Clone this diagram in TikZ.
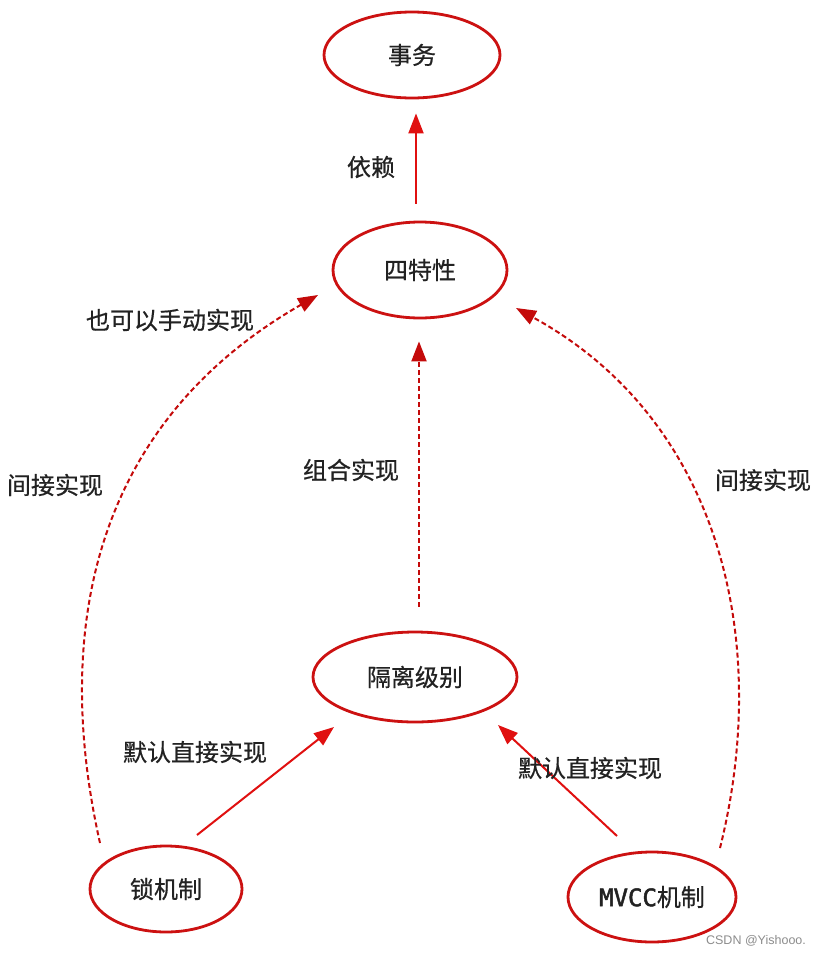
\documentclass[tikz,border=0pt]{standalone}
\usepackage{fontspec}
\setmainfont{Noto Sans CJK SC}[FakeBold=0.6]
\newfontfamily\monobold{DejaVu Sans Mono}[FakeBold=2]
\newfontfamily\wmfont{Liberation Sans}
\usetikzlibrary{shapes.geometric,arrows.meta,calc}
\definecolor{ered}{HTML}{CC1111}
\definecolor{ared}{HTML}{E01010}
\definecolor{dred}{HTML}{C40A0A}
\definecolor{txt}{HTML}{222222}
\tikzset{
  oval/.style={ellipse,draw=ered,line width=2.8pt,inner sep=0pt,text=txt,font=\fontsize{24}{26}\selectfont},
  lbl/.style={text=txt,font=\fontsize{24}{26}\selectfont,inner sep=0pt},
  solidarr/.style={draw=ared,line width=2pt,-{Triangle[length=20pt,width=15pt]}},
  dasharr/.style={draw=dred,line width=2pt,dash pattern=on 5pt off 3pt,-{Triangle[length=20pt,width=15pt]}}
}
\begin{document}
\begin{tikzpicture}[x=1pt,y=-1pt]
\fill[white] (0,0) rectangle (822,956);
\useasboundingbox (0,0) rectangle (822,956);
\node[oval,minimum width=176pt,minimum height=86pt] (sw) at (412,55) {事务};
\node[oval,minimum width=174pt,minimum height=96pt] (tx) at (420,270) {四特性};
\node[oval,minimum width=204pt,minimum height=90pt] (gl) at (415,677) {隔离级别};
\node[oval,minimum width=152pt,minimum height=86pt] (lock) at (166,889) {锁机制};
\node[oval,minimum width=168pt,minimum height=90pt] (mvcc) at (652,897) {{\monobold MVCC}机制};

\draw[solidarr] ($(tx.north)+(-4,-17)$) -- ($(sw.south)+(4,14)$);
\draw[dasharr] ($(gl.north)+(4,-24)$) -- ($(tx.south)+(-1,22)$);
\draw[dasharr] ($(lock.center)+(-66,-46)$) .. controls (50,620) and (100,420) .. ($(tx.center)+(-102,25)$);
\draw[dasharr] ($(mvcc.center)+(68,-49)$) .. controls (772,640) and (720,420) .. ($(tx.center)+(96,38)$);
\draw[solidarr] ($(lock.center)+(31,-54)$) -- ($(gl.center)+(-81,50)$);
\draw[solidarr] ($(mvcc.center)+(-35,-61)$) -- ($(gl.center)+(83,48)$);

\node[lbl] (l1) at (371,167) {依赖};
\node[lbl] (l2) at (170,320) {也可以手动实现};
\node[lbl] (l3) at (55,485) {间接实现};
\node[lbl] (l4) at (351,470) {组合实现};
\node[lbl] (l5) at (763,480) {间接实现};
\node[lbl] (l6) at (195,752) {默认直接实现};
\node[lbl] (l7) at (590,768) {默认直接实现};
\node[text=black!45,font=\wmfont\fontsize{12.5}{14}\selectfont,inner sep=0pt] (wm) at (756,941) {CSDN @Yishooo.};
\end{tikzpicture}
\end{document}
